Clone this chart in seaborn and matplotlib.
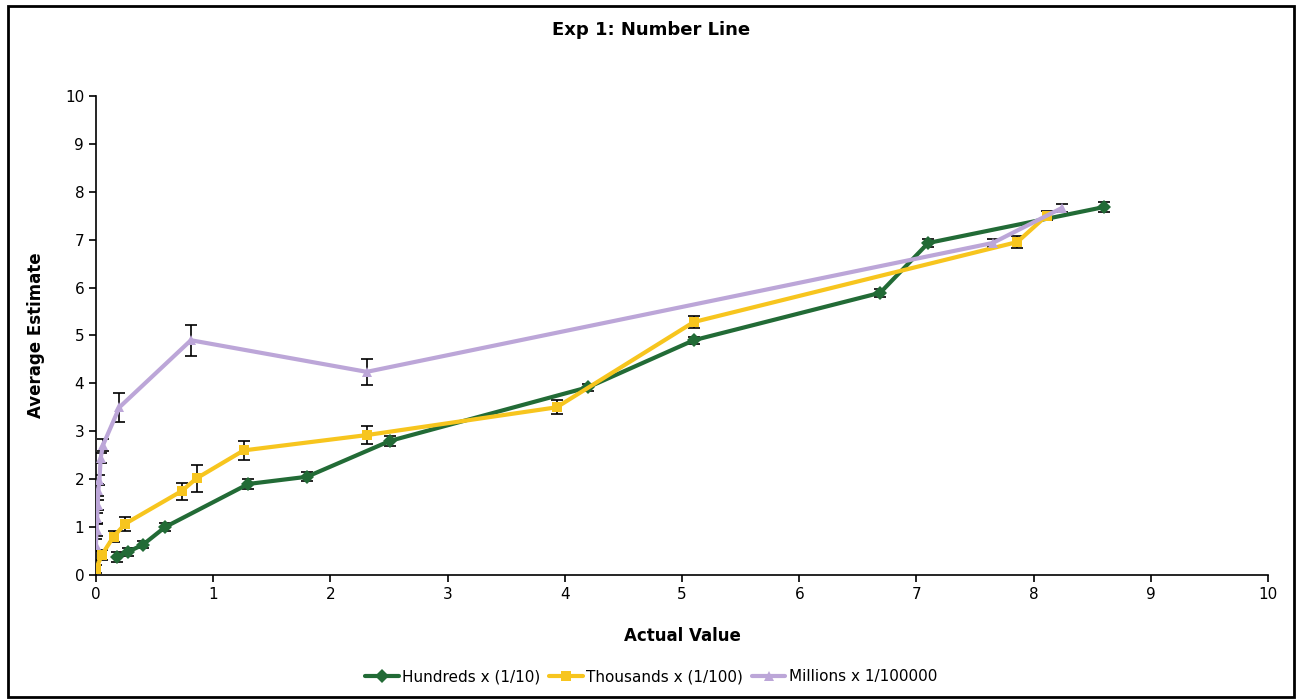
import numpy as np
import pandas as pd
import matplotlib
matplotlib.use("Agg")
import matplotlib.pyplot as plt
import seaborn as sns
from matplotlib.patches import Rectangle

# ---- data ----
hund_x = [0.18, 0.27, 0.40, 0.59, 1.30, 1.80, 2.51, 4.20, 5.10, 6.69, 7.10, 8.60]
hund_y = [0.38, 0.48, 0.63, 1.00, 1.90, 2.05, 2.80, 3.92, 4.90, 5.89, 6.93, 7.68]
hund_e = [0.10, 0.08, 0.07, 0.09, 0.10, 0.09, 0.10, 0.07, 0.07, 0.08, 0.08, 0.10]

thou_x = [0.00, 0.05, 0.15, 0.25, 0.73, 0.86, 1.26, 2.31, 3.93, 5.10, 7.86, 8.11]
thou_y = [0.12, 0.42, 0.80, 1.07, 1.75, 2.02, 2.60, 2.92, 3.50, 5.28, 6.95, 7.50]
thou_e = [0.08, 0.10, 0.12, 0.15, 0.18, 0.28, 0.20, 0.18, 0.15, 0.12, 0.12, 0.10]

mill_x = [0.000, 0.005, 0.010, 0.015, 0.020, 0.030, 0.040, 0.060, 0.20, 0.81, 2.31, 7.65, 8.24]
mill_y = [0.63, 0.94, 1.19, 1.46, 1.77, 1.98, 2.44, 2.71, 3.50, 4.90, 4.24, 6.93, 7.66]
mill_e = [0.12, 0.12, 0.10, 0.10, 0.12, 0.10, 0.10, 0.12, 0.30, 0.32, 0.27, 0.08, 0.08]

labels = ["Hundreds x (1/10)", "Thousands x (1/100)", "Millions x 1/100000"]
colors = ["#226B36", "#F7C51E", "#BCA6D8"]
markers = ["D", "s", "^"]

sns.set_theme(style="white")
plt.rcParams["font.family"] = ["DejaVu Sans"]

fig = plt.figure(figsize=(13.02, 7.0), dpi=100)
ax = fig.add_axes([0.0737, 0.1786, 0.9003, 0.6844])

series = [(hund_x, hund_y, hund_e), (thou_x, thou_y, thou_e), (mill_x, mill_y, mill_e)]
frames = []
for (xs, ys, es), lab in zip(series, labels):
    frames.append(pd.DataFrame({"x": xs, "y": ys, "e": es, "series": lab}))
df = pd.concat(frames, ignore_index=True)

# error bars drawn first (black caps)
for lab in labels:
    d = df[df.series == lab]
    ax.errorbar(d.x, d.y, yerr=d.e, fmt="none", ecolor="black", elinewidth=1.2,
                capsize=4, capthick=1.2, zorder=3)

sns.lineplot(data=df, x="x", y="y", hue="series", style="series",
             palette=dict(zip(labels, colors)), markers=dict(zip(labels, markers)),
             dashes=False, linewidth=3, markersize=7, markeredgewidth=0,
             sort=False, ax=ax, zorder=4, legend=True)

ax.set_xlim(0, 10)
ax.set_ylim(0, 10)
ax.set_xticks(range(0, 11))
ax.set_yticks(range(0, 11))
for s in ["top", "right"]:
    ax.spines[s].set_visible(False)
for s in ["left", "bottom"]:
    ax.spines[s].set_color("black")
    ax.spines[s].set_linewidth(1.2)
ax.tick_params(axis="both", which="both", direction="out", length=5, width=1.2,
               color="black", labelsize=11, labelcolor="black", bottom=True, left=True)
ax.set_xlabel("Actual Value", fontsize=12, fontweight="bold", color="black", labelpad=18)
ax.set_ylabel("Average Estimate", fontsize=12, fontweight="bold", color="black", labelpad=14)
fig.suptitle("Exp 1: Number Line", y=0.97, fontsize=13, fontweight="bold", color="black")
ax.grid(False)

handles, labs = ax.get_legend_handles_labels()
leg = ax.legend(handles, labs, loc="center", bbox_to_anchor=(0.5, 0.033),
                bbox_transform=fig.transFigure, ncol=3, frameon=False, fontsize=11,
                handlelength=2.2, handletextpad=0.2, columnspacing=0.6)
for t in leg.get_texts():
    t.set_color("black")

fig.patches.append(Rectangle((0.006, 0.004), 0.988, 0.988, transform=fig.transFigure,
                             fill=False, edgecolor="black", linewidth=2))

fig.savefig("out.png", dpi=100)
